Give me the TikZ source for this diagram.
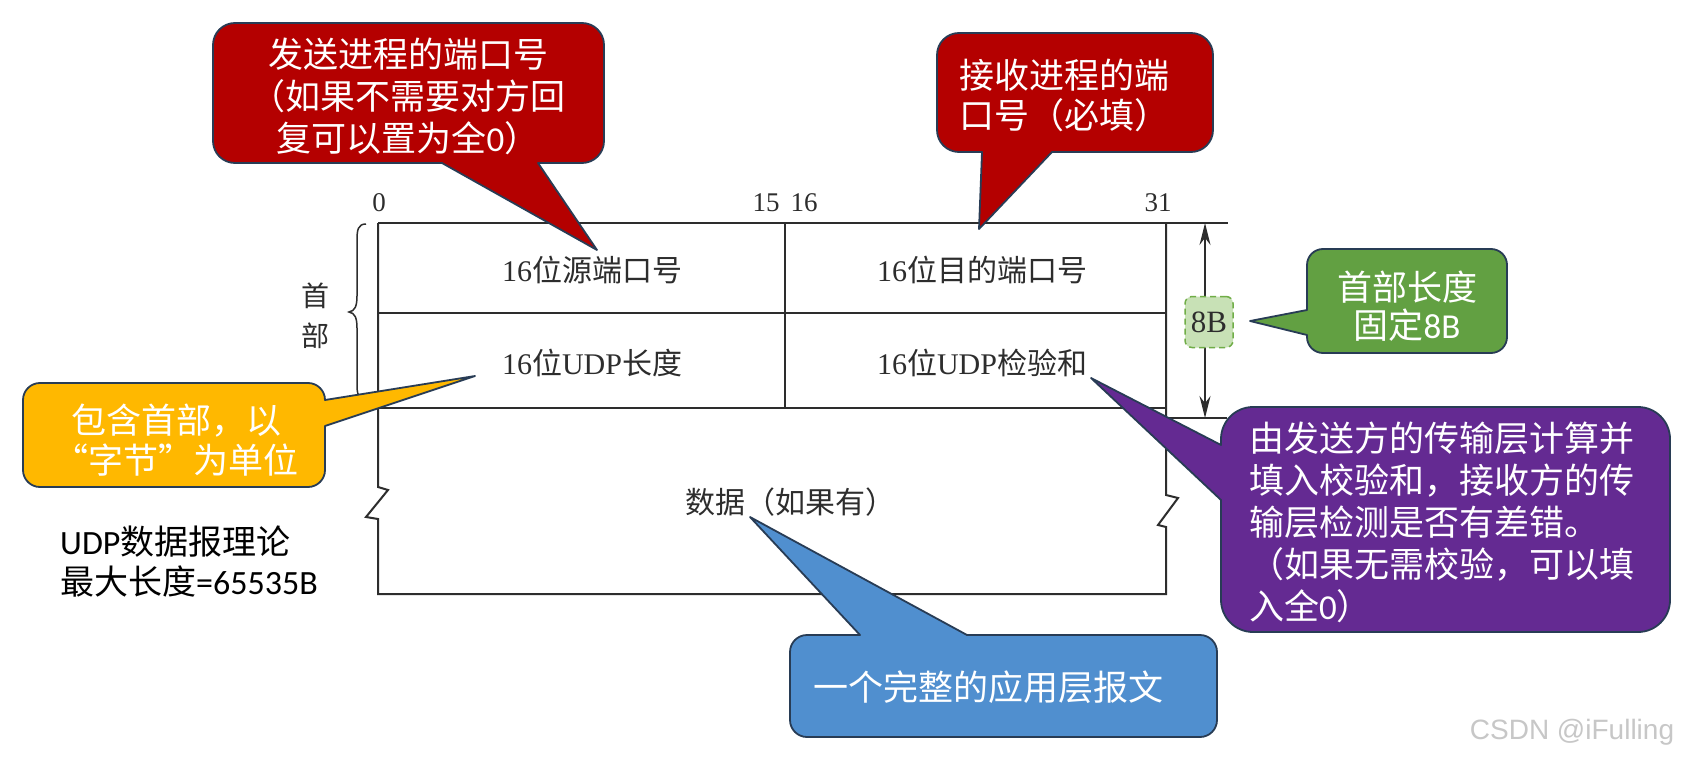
\documentclass[tikz,border=0pt]{standalone}
\usepackage{fontspec}
\usetikzlibrary{arrows.meta}
\setmainfont{Liberation Serif}
\newfontfamily\cjkfont{Noto Sans CJK SC}
\newfontfamily\calfont{Carlito}
\newfontfamily\wmfont{Liberation Sans}
\definecolor{cred}{RGB}{180,0,0}
\definecolor{cgreen}{RGB}{98,160,66}
\definecolor{corange}{RGB}{255,184,0}
\definecolor{cpurple}{RGB}{100,42,146}
\definecolor{cblue}{RGB}{80,143,207}
\definecolor{cedge}{RGB}{40,60,85}
\definecolor{lgreen}{RGB}{200,225,182}
\definecolor{dgreen}{RGB}{112,173,71}
\definecolor{tline}{RGB}{45,45,45}
\begin{document}
\begin{tikzpicture}[x=1pt,y=-1pt,
  tbl/.style={draw=tline, line width=2pt, line join=miter},
  bubble/.style={draw=cedge, line width=1.8pt, line join=round},
  bubbletext/.style={text=white, font=\cjkfont\fontsize{35}{42}\selectfont, inner sep=0pt},
  celltext/.style={text=tline, font=\fontsize{30}{36}\selectfont, inner sep=0pt},
  bitnum/.style={text=tline, font=\fontsize{27}{32}\selectfont, inner sep=0pt},
  headtext/.style={text=tline, font=\cjkfont\fontsize{28}{32}\selectfont, inner sep=0pt},
]
\useasboundingbox (0,0) rectangle (1688,762);
\fill[white] (0,0) rectangle (1688,762);

% ---------- table ----------
\draw[tbl] (378,223) -- (1228,223);
\draw[tbl] (378,313) -- (1166,313);
\draw[tbl] (378,408) -- (1166,408);
\draw[tbl] (1166,418) -- (1227,418);
\draw[tbl] (785,223) -- (785,408);
\draw[tbl] (378,223) -- (378,487) -- (388,490) -- (366,517) -- (378,519) -- (378,594)
  -- (1166,594) -- (1166,527) -- (1158,525) -- (1178,498) -- (1166,495) -- (1166,223);

% brace
\draw[tline, line width=1.5pt] (366,224) .. controls (358,224) and (357,230) .. (357,240)
  -- (357,296) .. controls (357,306) and (355,311) .. (349,312)
  .. controls (355,313) and (357,318) .. (357,328)
  -- (357,384) .. controls (357,394) and (358,399) .. (366,399);

% bit numbers
\node[bitnum] (n0) at (379,203) {0};
\node[bitnum] (n15) at (766,203) {15};
\node[bitnum] (n16) at (804,203) {16};
\node[bitnum] (n31) at (1158,203) {31};

\node[headtext] (h1) at (315,296) {首};
\node[headtext] (h2) at (315,336) {部};

% cell texts
\node[celltext] (c1) at (592,270) {16{\cjkfont 位源端口号}};
\node[celltext] (c2) at (982,270) {16{\cjkfont 位目的端口号}};
\node[celltext] (c3) at (592,363) {16{\cjkfont 位}UDP{\cjkfont 长度}};
\node[celltext] (c4) at (982,363) {16{\cjkfont 位}UDP{\cjkfont 检验和}};
\node[celltext] (c5) at (790,502) {{\cjkfont 数据（如果有）}};

% length arrow
\coordinate (atop) at (1205,223);
\coordinate (abot) at (1205,418);
\draw[tline, line width=1.5pt, {Stealth[length=22pt,width=11pt]}-{Stealth[length=22pt,width=11pt]}] (atop) -- (abot);
\node[draw=dgreen, dash pattern=on 6pt off 4pt, fill=lgreen, rounded corners=7pt, line width=1.5pt,
      minimum width=48pt, minimum height=51pt, inner sep=0pt, text=tline,
      font=\fontsize{31}{36}\selectfont] (b8) at (1209,322) {8B};

% ---------- callouts ----------
% red 1
\path[bubble, fill=cred] (235,23) -- (582,23) arc[start angle=-90,end angle=0,radius=22]
  -- (604,141) arc[start angle=0,end angle=90,radius=22]
  -- (538,163) -- (597,250) -- (442,163)
  -- (235,163) arc[start angle=90,end angle=180,radius=22]
  -- (213,45) arc[start angle=180,end angle=270,radius=22] -- cycle;
\node[bubbletext, align=center] (t1) at (408,96) {发送进程的端口号\\（如果不需要对方回\\复可以置为全{\calfont 0}）};

% red 2
\path[bubble, fill=cred] (959,33) -- (1191,33) arc[start angle=-90,end angle=0,radius=22]
  -- (1213,130) arc[start angle=0,end angle=90,radius=22]
  -- (1052,152) -- (979,229) -- (982,152)
  -- (959,152) arc[start angle=90,end angle=180,radius=22]
  -- (937,55) arc[start angle=180,end angle=270,radius=22] -- cycle;
\node[bubbletext, align=left, anchor=west, font=\cjkfont\fontsize{35}{40}\selectfont] (t2) at (959,95) {接收进程的端\\口号（必填）};

% green
\path[bubble, fill=cgreen] (1323,249) -- (1491,249) arc[start angle=-90,end angle=0,radius=16]
  -- (1507,337) arc[start angle=0,end angle=90,radius=16]
  -- (1323,353) arc[start angle=90,end angle=180,radius=16]
  -- (1307,335) -- (1250,321) -- (1307,310)
  -- (1307,265) arc[start angle=180,end angle=270,radius=16] -- cycle;
\node[bubbletext, align=center, font=\cjkfont\fontsize{35}{38}\selectfont] (t3) at (1407,306) {首部长度\\固定{\calfont 8B}};

% orange
\path[bubble, fill=corange] (40,383) -- (308,383) arc[start angle=-90,end angle=0,radius=17]
  -- (475,376) -- (325,426)
  -- (325,470) arc[start angle=0,end angle=90,radius=17]
  -- (40,487) arc[start angle=90,end angle=180,radius=17]
  -- (23,400) arc[start angle=180,end angle=270,radius=17] -- cycle;
\node[bubbletext, align=center, font=\cjkfont\fontsize{35}{40}\selectfont] (t4) at (176,440) {包含首部，以\\“字节”为单位};

% purple
\path[bubble, fill=cpurple] (1253,407) -- (1638,407) arc[start angle=-90,end angle=0,radius=32]
  -- (1670,600) arc[start angle=0,end angle=90,radius=32]
  -- (1253,632) arc[start angle=90,end angle=180,radius=32]
  -- (1221,500) -- (1091,378) -- (1221,445)
  -- (1221,439) arc[start angle=180,end angle=270,radius=32] -- cycle;
\node[bubbletext, align=left, anchor=west] (t5) at (1249,522) {由发送方的传输层计算并\\填入校验和，接收方的传\\输层检测是否有差错。\\（如果无需校验，可以填\\入全{\calfont 0}）};

% blue
\path[bubble, fill=cblue] (807,635) -- (860,635) -- (750,517) -- (967,635)
  -- (1200,635) arc[start angle=-90,end angle=0,radius=17]
  -- (1217,720) arc[start angle=0,end angle=90,radius=17]
  -- (807,737) arc[start angle=90,end angle=180,radius=17]
  -- (790,652) arc[start angle=180,end angle=270,radius=17] -- cycle;
\node[bubbletext] (t6) at (988,687) {一个完整的应用层报文};

% left note
\node[font=\fontsize{34}{40}\selectfont, align=left, anchor=west, inner sep=0pt] (t7) at (60,562)
  {{\calfont UDP}{\cjkfont 数据报理论}\\{\cjkfont 最大长度}{\calfont =65535B}};

% watermark
\node[font=\wmfont\fontsize{28}{32}\selectfont, text=black!22, inner sep=0pt] (wm) at (1572,732) {CSDN @iFulling};
\end{tikzpicture}
\end{document}
